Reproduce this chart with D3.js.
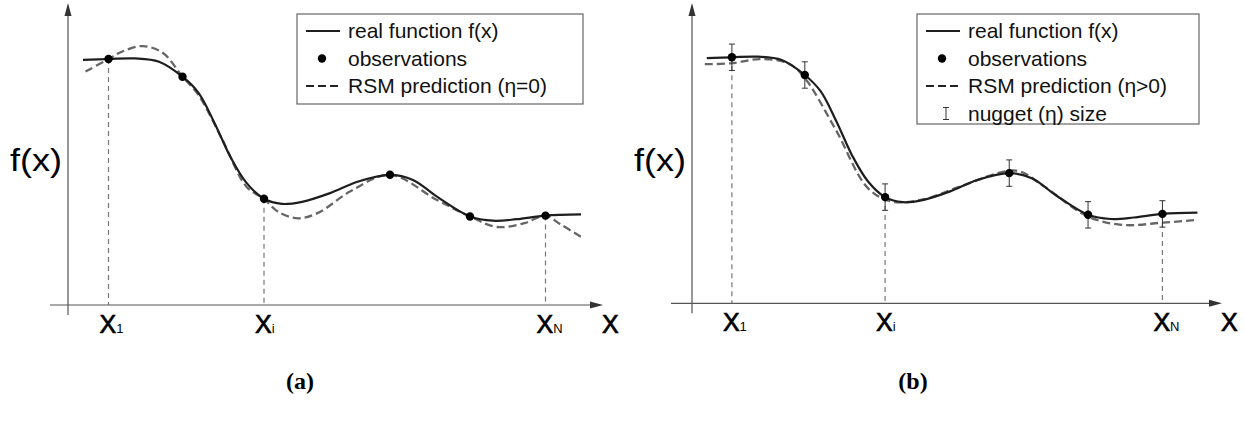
<!DOCTYPE html>
<html>
<head>
<meta charset="utf-8">
<script src="https://cdn.jsdelivr.net/npm/d3@7"></script>
<style>
html,body{margin:0;padding:0;background:#fff;}
svg{display:block;}
text{font-family:"Liberation Sans",Arial,Helvetica,sans-serif;}
text.caption{font-family:"Liberation Serif","Times New Roman",serif;font-weight:bold;}
</style>
</head>
<body>
<svg id="chart" width="1244" height="421"></svg>
<script>
// ---- data (abstract units: x 0..100, y 0..100) ----
const obsX = [8.1, 22.9, 39.2, 64.4, 80.4, 95.5];
const obsY = [82.0, 76.1, 35.4, 43.4, 29.5, 29.8];
const labeledObs = [0, 2, 5];
const tickLabels = [["X", "1"], ["X", "i"], ["X", "N"]];

const realX = [3.0, 8.1, 13.4, 18.2, 22.9, 26.1, 29.3, 32.5, 35.7, 39.2, 42.8, 46.8, 52.4, 57.9, 64.4, 69.0, 73.8, 80.4, 85.0, 89.7, 95.5, 102.6];
const realY = [81.7, 82.0, 82.2, 81.1, 76.1, 70.7, 60.7, 49.3, 40.7, 35.4, 33.7, 34.4, 37.3, 41.1, 43.4, 41.7, 36.1, 29.5, 28.1, 28.6, 29.8, 30.2];

const predAX = [3.5, 8.1, 11.0, 15.0, 19.0, 22.9, 26.1, 30.9, 35.7, 39.2, 42.0, 46.0, 50.0, 56.4, 64.4, 73.8, 80.4, 85.8, 91.3, 95.5, 98.4, 102.6];
const predAY = [77.8, 82.0, 84.6, 86.3, 84.0, 76.1, 70.0, 55.0, 39.4, 35.4, 31.1, 28.9, 30.7, 37.8, 43.4, 35.0, 29.5, 26.0, 27.3, 29.8, 27.0, 22.7];

const predBX = [2.6, 7.9, 13.8, 19.5, 22.7, 29.2, 35.7, 40.6, 47.1, 54.4, 65.8, 71.5, 80.4, 87.7, 95.6, 102.7];
const predBY = [79.7, 80.0, 81.4, 80.0, 75.5, 57.8, 38.4, 33.9, 34.7, 38.9, 44.2, 38.9, 28.9, 26.1, 26.9, 27.8];

const nugget = 4.4;

const legendA = ["real function f(x)", "observations", "RSM prediction (\u03b7=0)"];
const legendB = ["real function f(x)", "observations", "RSM prediction (\u03b7>0)", "nugget (\u03b7) size"];
const captions = ["(a)", "(b)"];

// ---- drawing ----
const svg = d3.select("#chart");
const realColor = "#1e1e1e", predColor = "#666", axisColor = "#555";

function drawPanel(cfg) {
  const g = svg.append("g");
  const x = d3.scaleLinear().domain([0, 100]).range([cfg.ox, cfg.ox + cfg.w]);
  const y = d3.scaleLinear().domain([0, 100]).range([cfg.oy, cfg.oy - 300]);

  // axes
  g.append("line").attr("x1", cfg.xStart).attr("x2", cfg.xTip - 10)
    .attr("y1", cfg.oy).attr("y2", cfg.oy).attr("stroke", axisColor).attr("stroke-width", 1.2);
  g.append("path").attr("d", `M${cfg.xTip},${cfg.oy} L${cfg.xTip-13},${cfg.oy-3.5} L${cfg.xTip-13},${cfg.oy+3.5} Z`).attr("fill", "#333");
  g.append("line").attr("x1", cfg.ox).attr("x2", cfg.ox)
    .attr("y1", cfg.oy + 10).attr("y2", 14).attr("stroke", axisColor).attr("stroke-width", 1.2);
  g.append("path").attr("d", `M${cfg.ox},3 L${cfg.ox-3.5},16 L${cfg.ox+3.5},16 Z`).attr("fill", "#333");

  // vertical dashed drop lines
  labeledObs.forEach(i => {
    g.append("line").attr("x1", x(obsX[i])).attr("x2", x(obsX[i]))
      .attr("y1", y(obsY[i])).attr("y2", cfg.oy)
      .attr("stroke", "#777").attr("stroke-width", 1.2).attr("stroke-dasharray", "5,4");
  });

  const line = d3.line().x(d => x(d[0])).y(d => y(d[1])).curve(d3.curveCatmullRom.alpha(0.5));

  // prediction (dashed)
  g.append("path").datum(d3.zip(cfg.predX, cfg.predY)).attr("d", line)
    .attr("fill", "none").attr("stroke", predColor).attr("stroke-width", 2.3).attr("stroke-dasharray", "8,4");
  // real function
  g.append("path").datum(d3.zip(realX, realY)).attr("d", line)
    .attr("fill", "none").attr("stroke", realColor).attr("stroke-width", 2.2);

  // nugget error bars
  if (cfg.nugget) {
    obsX.forEach((ox, i) => {
      const cx = x(ox), y1 = y(obsY[i] + nugget), y2 = y(obsY[i] - nugget);
      g.append("line").attr("x1", cx).attr("x2", cx).attr("y1", y1).attr("y2", y2).attr("stroke", "#333").attr("stroke-width", 1);
      [y1, y2].forEach(yy => g.append("line").attr("x1", cx - 3).attr("x2", cx + 3).attr("y1", yy).attr("y2", yy).attr("stroke", "#333").attr("stroke-width", 1));
    });
  }

  // observations
  g.selectAll("circle.obs").data(d3.zip(obsX, obsY)).enter().append("circle")
    .attr("cx", d => x(d[0])).attr("cy", d => y(d[1])).attr("r", 4.2).attr("fill", "#000");

  // tick labels
  labeledObs.forEach((idx, k) => {
    const t = g.append("text").attr("x", x(obsX[idx]) - 9).attr("y", cfg.oy + 28)
      .attr("font-size", 25).attr("fill", "#000").attr("stroke", "#000").attr("stroke-width", 0.7);
    t.append("tspan").text(tickLabels[k][0]);
    t.append("tspan").attr("font-size", 13).attr("stroke-width", 0).text(tickLabels[k][1]);
  });
  g.append("text").attr("x", cfg.xTip - 1).attr("y", cfg.oy + 28).attr("font-size", 25).attr("fill", "#000")
    .attr("stroke", "#000").attr("stroke-width", 0.7).text("X");
  g.append("text").attr("x", cfg.ox - 58).attr("y", 171).attr("font-size", 31)
    .attr("textLength", 52).attr("lengthAdjust", "spacingAndGlyphs").attr("fill", "#000").text("f(x)");

  // legend
  const L = cfg.legend;
  g.append("rect").attr("x", L.x).attr("y", 14).attr("width", L.w).attr("height", L.h)
    .attr("fill", "#fff").attr("stroke", "#666").attr("stroke-width", 1.2);
  cfg.legendText.forEach((txt, i) => {
    const cy = 31 + i * 27.5;
    const lx = L.x + 9;
    if (i === 0) {
      g.append("line").attr("x1", lx).attr("x2", lx + 34).attr("y1", cy).attr("y2", cy).attr("stroke", realColor).attr("stroke-width", 2.2);
    } else if (i === 1) {
      g.append("circle").attr("cx", lx + 16).attr("cy", cy).attr("r", 4.2).attr("fill", "#000");
    } else if (i === 2) {
      g.append("line").attr("x1", lx).attr("x2", lx + 34).attr("y1", cy).attr("y2", cy).attr("stroke", "#222").attr("stroke-width", 2.2).attr("stroke-dasharray", "8,4");
    } else {
      const cx = lx + 20;
      g.append("line").attr("x1", cx).attr("x2", cx).attr("y1", cy - 6).attr("y2", cy + 6).attr("stroke", "#333").attr("stroke-width", 1);
      g.append("line").attr("x1", cx - 3).attr("x2", cx + 3).attr("y1", cy - 6).attr("y2", cy - 6).attr("stroke", "#333").attr("stroke-width", 1);
      g.append("line").attr("x1", cx - 3).attr("x2", cx + 3).attr("y1", cy + 6).attr("y2", cy + 6).attr("stroke", "#333").attr("stroke-width", 1);
    }
    g.append("text").attr("x", L.x + 51).attr("y", cy + 7).attr("font-size", 21).attr("fill", "#111").text(txt);
  });

  // caption
  svg.append("text").attr("class", "caption").attr("x", cfg.capX).attr("y", 389).attr("text-anchor", "middle")
    .attr("font-size", 24).attr("fill", "#000").text(cfg.caption);
}

drawPanel({ox: 68, oy: 305, w: 500, xStart: 50, xTip: 603, predX: predAX, predY: predAY, nugget: false,
  legend: {x: 297, w: 286, h: 90}, legendText: legendA, capX: 300, caption: captions[0]});
drawPanel({ox: 692, oy: 303.3, w: 492.6, xStart: 671, xTip: 1222, predX: predBX, predY: predBY, nugget: true,
  legend: {x: 917, w: 282, h: 110}, legendText: legendB, capX: 913, caption: captions[1]});
</script>
</body>
</html>
